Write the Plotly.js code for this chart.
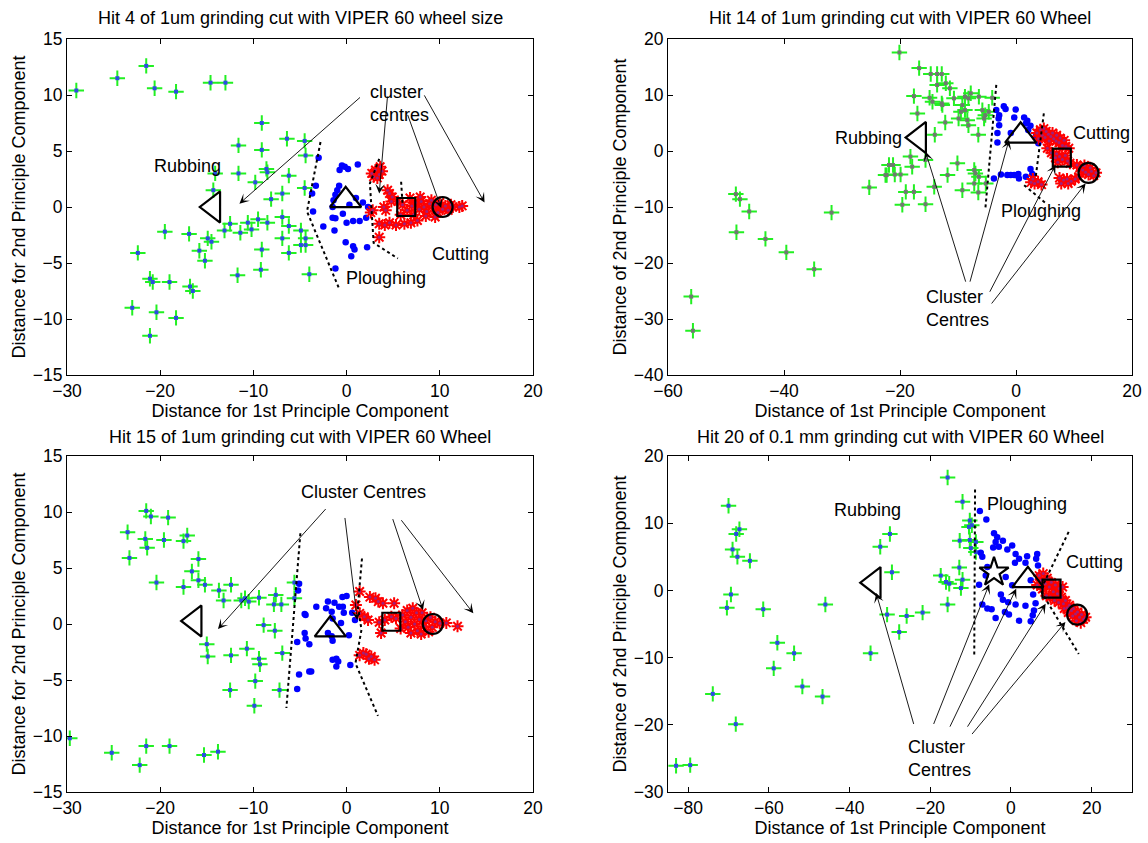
<!DOCTYPE html>
<html><head><meta charset="utf-8">
<script src="https://cdn.plot.ly/plotly-3.0.1.min.js"></script>
<style>body{margin:0;background:#fff}#c{width:1148px;height:843px}</style>
</head><body><div id="c"></div>
<script>
// ---------- DATA ----------
// Plot 1 (Hit 4)
const g1x=[-29.0,-24.6,-21.5,-20.6,-18.3,-14.6,-13.0,-9.1,-6.4,-4.5,-11.6,-9.1,-4.4,-8.6,-8.5,-11.6,-14.1,-9.8,-6.2,-4.5,-14.3,-6.9,-8.1,-12.5,-13.1,-10.6,-9.5,-10.2,-8.5,-11.4,-6.9,-6.2,-4.9,-4.4,-4.9,-4.4,-6.9,-9.1,-6.2,-19.5,-16.9,-14.9,-14.5,-15.8,-15.2,-22.4,-21.1,-20.8,-19.0,-16.8,-16.5,-11.7,-9.2,-23.0,-20.4,-18.3,-21.1,-4.0];
const g1y=[10.4,11.5,12.6,10.6,10.3,11.1,11.1,7.5,6.1,5.9,5.5,5.1,4.6,3.4,3.1,3.0,3.0,2.2,2.8,1.7,1.5,1.2,0.7,-1.5,-2.1,-1.4,-1.1,-2.0,-1.4,-2.3,-0.9,-1.7,-2.1,-2.8,-3.4,-3.4,-2.8,-3.8,-4.1,-2.2,-2.4,-2.8,-3.1,-3.9,-4.8,-4.1,-6.4,-6.7,-6.7,-7.1,-7.5,-6.1,-5.6,-9.0,-9.4,-9.9,-11.5,-6.0];
const b1x=[-0.75,-0.2,0.15,-0.5,1.2,-3.0,-3.3,-3.7,-3.6,-0.8,-1.2,-1.4,-1.5,1.0,1.75,2.3,0.3,-1.5,-1.2,0.0,0.7,1.4,2.1,-2.5,-1.3,-0.1,0.7,0.85,0.5,2.2,-1.2,-1.0,-0.4];
const b1y=[3.3,3.6,3.4,3.7,3.8,4.4,1.9,1.2,-0.4,1.9,1.1,0.6,0.0,0.8,0.4,0.0,0.2,-0.95,-1.0,-1.4,-1.25,-1.25,-0.95,-1.75,-2.1,-3.15,-3.5,-3.8,-4.4,-3.6,-5.5,1.5,-0.6];
const r1x=[2.7,3.1,3.5,3.8,3.3,2.9,3.6,4.6,4.4,4.9,2.8,2.6,4.2,4.0,3.5,4.1,4.6,5.3,6.2,6.9,7.6,3.5,5.5,6.0,6.5,7.0,7.4,7.8,8.0,8.3,8.6,8.9,9.1,9.3,9.6,9.8,10.0,10.3,10.6,10.9,11.2,11.4,12.1,12.4,8.5,7.2,9.5,6.8,7.9,5.8,4.8];
const r1y=[3.0,3.3,2.9,3.2,2.6,2.7,3.6,1.2,1.5,0.9,-0.3,-0.5,-0.3,0.0,-1.5,-1.6,-1.4,-1.6,-1.5,-1.4,-1.2,-2.7,0.5,0.2,-0.3,0.1,0.4,-0.2,0.5,0.0,-0.4,0.3,0.6,-0.1,0.2,-0.5,0.4,-0.2,0.1,-0.3,0.2,0.0,0.0,0.1,-0.8,-0.7,-0.9,0.8,0.9,-0.7,0.5];
const c1x=[-14.3,-0.1,6.4,10.3];
const c1y=[0.0,0.6,0.0,0.0];
const d1ax=[-2.8,-4.25,-0.75], d1ay=[5.8,-0.4,-7.4];
const d1bx=[3.5,2.5,2.9,5.5], d1by=[4.3,2.1,-3.2,-4.6];
const d1cx=[5.85,6.0], d1cy=[2.25,0.3];
const a1hx=[-11.5,3.5,10.15,14.8], a1hy=[0.3,1.2,-0.1,0.4];
const a1tx=[1.6,4.4,6.5,8.25], a1ty=[9.9,10.0,8.35,10.1];

// Plot 2 (Hit 14)
const g2x=[-56.0,-55.7,-48.3,-47.6,-46.0,-48.2,-43.2,-39.6,-34.8,-31.8,-25.3,-22.3,-21.9,-20.1,-16.7,-14.7,-13.6,-12.8,-13.6,-12.1,-11.4,-17.6,-14.9,-14.4,-12.8,-12.7,-10.7,-8.8,-7.8,-8.2,-6.4,-4.1,-9.25,-8.8,-9.5,-5.8,-5.3,-4.7,-17.0,-9.9,-8.4,-8.2,-5.5,-12.2,-14.0,-6.5,-18.2,-21.2,-17.9,-22.5,-20.9,-19.9,-15.6,-10.1,-11.8,-7.2,-7.0,-6.4,-5.2,-7.2,-19.0,-17.6,-14.1,-9.25,-6.5,-19.6,-15.6];
const g2y=[-26.0,-32.1,-7.7,-8.6,-10.8,-14.5,-15.7,-18.1,-21.1,-11.0,-6.5,-4.3,-2.5,17.6,14.8,13.75,13.75,13.75,11.8,12.1,11.2,9.8,9.5,8.8,8.5,8.2,9.4,9.7,10.3,9.4,9.7,9.5,8.2,7.3,7.0,7.3,6.4,7.0,6.7,5.8,5.5,4.6,5.8,5.1,2.9,2.9,-1.0,-2.5,-2.8,-4.3,-4.2,-4.2,-1.6,-2.2,-4.3,-3.4,-4.0,-4.6,-5.8,-5.8,-7.3,-7.3,-6.4,-7.0,-7.4,-9.6,-9.5];
const b2x=[-3.4,-2.9,-3.0,-2.1,-1.8,-0.05,-0.3,1.4,1.95,1.7,2.5,2.1,-2.9,-3.2,-3.2,-0.9,3.4,4.0,4.5,3.85,-3.8,-2.6,-1.5,-0.9,-0.3,0.4,0.5,1.7,2.5,2.8];
const b2y=[7.3,6.4,5.8,8.0,7.5,7.4,6.0,6.0,5.4,4.9,4.5,3.75,4.6,3.2,1.5,3.2,2.6,2.0,2.6,1.4,-4.9,-4.2,-4.3,-4.3,-4.3,-4.1,-4.9,-4.6,-3.2,-4.1];
const r2x=[3.6,4.2,4.8,5.2,5.6,6.0,6.5,6.9,7.4,8.0,8.6,9.1,5.0,5.7,4.5,6.3,7.0,7.6,8.3,3.9,5.4,6.1,7.0,7.5,8.0,8.5,8.9,9.3,7.2,6.8,10.5,11.0,11.5,12.0,12.5,13.0,13.4,13.8,11.8,12.8,7.5,8.2,8.8,9.5,10.2,10.8,7.8,9.0,2.6,3.2,3.8,4.4,2.9];
const r2y=[3.2,3.8,4.0,3.5,3.0,2.6,2.2,1.8,1.5,1.0,0.8,0.5,2.4,1.8,2.8,3.2,2.8,2.3,1.9,2.2,0.5,-0.3,-0.5,-1.0,-1.5,-0.8,-1.8,-2.2,-2.0,-1.2,-2.5,-3.0,-3.4,-3.8,-4.2,-3.6,-4.4,-3.9,-2.6,-3.0,-4.8,-5.2,-5.0,-5.4,-5.0,-4.6,-5.8,-5.8,-5.6,-5.8,-5.5,-6.0,-5.0];
const c2x=[-16.7,0.8,7.9,12.5];
const c2y=[2.4,2.7,-1.2,-3.9];
const d2ax=[-3.4,-5.3], d2ay=[11.8,-10.5];
const d2bx=[4.8,3.4], d2by=[6.7,-4.6];
const d2cx=[1.4,5.1], d2cy=[-6.1,-9.3];
const a2hx=[-15.6,-1.2,6.8,12.0], a2hy=[-0.1,2.0,-2.5,-5.8];
const a2tx=[-8.6,-8.0,-4.65,-4.4], a2ty=[-23.6,-23.6,-25.4,-27.5];

// Plot 3 (Hit 15)
const g3x=[-21.5,-21.0,-19.15,-23.5,-21.6,-21.4,-19.6,-17.5,-17.1,-23.3,-15.9,-16.6,-15.9,-15.2,-20.4,-17.5,-13.7,-13.2,-12.4,-11.3,-10.9,-10.5,-9.4,-7.6,-7.8,-7.0,-5.6,-5.6,-8.9,-7.7,-15.0,-14.9,-12.4,-10.7,-9.4,-9.3,-6.9,-12.5,-9.8,-7.2,-9.9,-29.7,-25.2,-21.5,-19.0,-22.2,-15.3,-13.8];
const g3y=[10.1,9.6,9.5,8.2,7.6,6.8,7.5,7.4,7.9,5.9,5.8,4.7,3.9,3.5,3.7,3.3,3.0,2.1,3.5,2.1,2.3,2.0,2.35,2.6,1.75,1.75,3.7,2.3,-0.1,-0.6,-1.8,-2.9,-2.8,-2.2,-3.1,-3.6,-2.6,-5.9,-5.1,-5.9,-7.3,-10.2,-11.5,-10.9,-10.9,-12.6,-11.7,-11.4];
const b3x=[-5.1,-5.2,-4.4,-5.3,-4.4,-4.0,-5.1,-4.0,-5.3,-4.5,-3.25,-2.2,-2.0,-1.6,-1.3,-1.5,-0.8,-0.4,-0.3,-0.45,0.0,-0.6,0.6,0.9,0.25,-4.5,-2.0,-1.6,-1.5,-1.5,-1.1,-0.9,-1.1,0.4,-3.8];
const b3y=[3.6,3.0,0.8,-1.6,-1.3,-1.8,-4.5,-4.25,-5.8,0.9,1.55,1.4,2.0,1.1,1.9,0.5,1.55,1.55,1.0,2.4,2.5,0.1,1.0,0.35,-1.0,-0.8,-0.8,-1.1,-1.5,-3.2,-3.1,-3.35,-3.8,-3.65,-4.25];
const r3x=[1.4,1.0,1.4,1.9,2.3,2.5,3.4,3.9,3.1,5.1,3.5,4.1,4.8,5.3,3.7,1.4,2.1,2.65,3.0,2.4,1.8,6.0,6.3,6.6,6.9,7.1,7.3,7.6,7.8,8.1,8.3,8.5,8.8,9.0,9.2,6.5,7.5,8.0,9.5,10.0,10.7,11.9,5.8,6.9];
const r3y=[2.9,1.7,0.95,0.65,0.35,2.4,2.0,1.85,2.3,1.85,0.15,0.35,0.65,0.5,-0.8,-2.8,-2.7,-2.9,-3.2,-3.1,-2.6,0.8,0.2,-0.3,0.6,1.4,0.0,-0.6,0.4,1.0,-0.2,0.3,-0.7,0.6,-0.3,1.2,1.0,-0.9,0.2,0.06,0.1,-0.2,-0.4,-0.8];
const c3x=[-16.3,-1.75,4.8,9.25];
const c3y=[0.27,-0.5,0.2,0.0];
const d3ax=[-4.96,-6.46], d3ay=[8.1,-7.5];
const d3bx=[1.65,1.2,1.6,0.95,3.36], d3by=[5.85,1.55,-0.5,-3.5,-8.2];
const a3hx=[-13.8,1.15,8.2,13.6], a3hy=[-0.45,0.35,1.25,0.95];
const a3tx=[-2.1,-0.2,4.9,5.75], a3ty=[10.4,9.6,9.5,9.4];

// Plot 4 (Hit 20)
const g4x=[-70.0,-67.3,-68.1,-69.0,-67.8,-64.7,-69.4,-70.4,-61.4,-46.0,-57.9,-53.75,-58.8,-51.7,-46.7,-73.9,-68.2,-83.0,-79.5,-32.4,-30.0,-34.8,-30.7,-29.5,-25.85,-21.9,-27.7,-15.7,-12.0,-10.2,-9.7,-10.4,-12.7,-10.2,-8.7,-9.95,-8.7,-12.8,-17.4,-16.1,-15.3,-12.0,-12.4,-15.7];
const g4y=[12.6,9.1,8.4,6.1,5.0,4.4,-0.6,-2.6,-2.8,-2.1,-7.8,-9.35,-11.6,-14.3,-15.8,-15.4,-19.9,-26.1,-26.0,6.5,8.4,-9.35,-3.6,2.7,-3.8,-3.3,-6.2,16.8,13.2,10.4,9.7,9.45,7.4,7.5,7.2,6.3,5.7,3.4,2.2,1.25,1.0,1.6,0.35,-2.1];
const b4x=[-7.7,-6.1,-4.2,-3.4,-3.8,-2.0,-4.4,-3.0,-0.9,0.3,-7.5,-7.1,1.15,2.0,4.0,6.5,6.25,1.0,3.6,6.7,-5.85,-6.25,-7.9,-1.3,0.3,4.9,6.9,-2.5,-2.0,-0.7,1.15,3.6,5.5,6.1,-7.1,-5.85,-4.8,-3.8,-1.5,-0.5,2.0,4.9,5.4,5.7];
const b4y=[11.8,10.55,8.5,7.9,7.2,7.4,6.4,6.5,6.1,6.7,5.6,5.0,5.4,4.7,5.1,5.4,4.7,4.1,4.1,3.7,3.5,2.2,0.85,2.0,0.75,1.5,2.2,-0.6,-1.4,-1.75,-2.1,-2.3,-0.6,-1.9,-2.1,-2.7,-2.8,-4.1,-3.2,-3.6,-4.5,-4.6,-3.7,-3.0];
const r4x=[7.0,7.5,8.0,8.5,9.0,9.5,10.0,10.5,11.0,11.5,12.0,7.8,8.8,9.8,10.8,12.5,11.8,13.0,13.5,14.0,14.5,15.0,15.5,16.0,16.5,17.0,17.5,18.0,18.5,16.2,17.3,15.3,14.2,13.2,12.8,6.5];
const r4y=[2.2,1.5,2.5,1.0,1.8,0.5,1.2,-0.2,0.8,-0.5,0.3,0.2,-0.8,-1.0,-1.5,-1.0,-1.8,-2.0,-1.5,-2.6,-2.2,-3.0,-2.7,-3.5,-3.2,-4.0,-3.6,-4.3,-4.0,-4.5,-4.8,-3.8,-3.3,-2.7,0.5,0.8];
const c4x=[-34.0,-4.2,4.2,10.05,16.4];
const c4y=[1.15,2.7,1.5,0.25,-3.6];
const d4ax=[-8.9,-9.1], d4ay=[15.0,-10.0];
const d4bx=[14.3,7.3,16.8], d4by=[8.7,0.0,-9.45];
const a4hx=[-33.4,-5.4,1.3,8.6,13.5], a4hy=[-0.4,0.9,0.25,-2.0,-4.7];
const a4tx=[-24.0,-19.3,-15.3,-11.0,-9.95], a4ty=[-20.1,-20.1,-20.5,-20.5,-21.6];

// Ticks and texts
const xt13=[-30,-20,-10,0,10,20], yt13=[-15,-10,-5,0,5,10,15];
const xt2=[-60,-40,-20,0,20], yt2=[-40,-30,-20,-10,0,10,20];
const xt4=[-80,-60,-40,-20,0,20], yt4=[-30,-20,-10,0,10,20];
const titles=["Hit 4 of 1um grinding cut with VIPER 60 wheel size","Hit 14 of 1um grinding cut with VIPER 60 Wheel","Hit 15 of 1um grinding cut with VIPER 60 Wheel","Hit 20 of 0.1 mm grinding cut with VIPER 60 Wheel"];
const xTitles=["Distance for 1st Principle Component","Distance of 1st Principle Component","Distance for 1st Principle Component","Distance of 1st Principle Component"];
const yTitles=["Distance for 2nd Principle Component","Distance of 2nd Principle Component","Distance for 2nd Principle Component","Distance of 2nd Principle Component"];

// ---------- BUILD ----------
const FONT='Liberation Sans, Arial, sans-serif';
const FS=18, TFS=17.5;
const traces=[];
function addSet(xa,ya,gx,gy,bx,by,rx,ry,cx,cy,csyms,lines,gcentre){
  traces.push({type:'scatter',mode:'markers',x:gx,y:gy,xaxis:xa,yaxis:ya,hoverinfo:'none',
    marker:{symbol:'cross-thin-open',size:11,opacity:1,color:'#22f022',line:{color:'#22f022',width:2}}});
  traces.push({type:'scatter',mode:'markers',x:gx,y:gy,xaxis:xa,yaxis:ya,hoverinfo:'none',
    marker:{symbol:'square',size:4,opacity:1,color:gcentre,line:{width:0}}});
  traces.push({type:'scatter',mode:'markers',x:bx,y:by,xaxis:xa,yaxis:ya,hoverinfo:'none',
    marker:{symbol:'circle',size:6.5,opacity:1,color:'#0000ff',line:{width:0}}});
  traces.push({type:'scatter',mode:'markers',x:rx,y:ry,xaxis:xa,yaxis:ya,hoverinfo:'none',
    marker:{symbol:'asterisk-open',size:10,opacity:1,color:'#ff0000',line:{color:'#ff0000',width:2}}});
  traces.push({type:'scatter',mode:'markers',x:rx,y:ry,xaxis:xa,yaxis:ya,hoverinfo:'none',
    marker:{symbol:'circle',size:3,opacity:1,color:'#a0207a',line:{width:0}}});
  lines.forEach(l=>traces.push({type:'scatter',mode:'lines',x:l[0],y:l[1],xaxis:xa,yaxis:ya,hoverinfo:'none',
    line:{color:'black',width:2,dash:'dot'}}));
  const sizes=csyms.map(s=>s.startsWith('triangle')?27:(s.startsWith('square')?18:(s.startsWith('star')?22:20)));
  traces.push({type:'scatter',mode:'markers',x:cx,y:cy,xaxis:xa,yaxis:ya,hoverinfo:'none',opacity:1,
    marker:{symbol:csyms,size:sizes,opacity:1,color:'#000000',line:{color:'#000000',width:2.2}}});
}
const S4=['triangle-left-open','triangle-up-open','square-open','circle-open'];
addSet('x','y',g1x,g1y,b1x,b1y,r1x,r1y,c1x,c1y,S4,[[d1ax,d1ay],[d1bx,d1by],[d1cx,d1cy]],'#2a4ee0');
addSet('x2','y2',g2x,g2y,b2x,b2y,r2x,r2y,c2x,c2y,S4,[[d2ax,d2ay],[d2bx,d2by],[d2cx,d2cy]],'#6f7a6f');
addSet('x3','y3',g3x,g3y,b3x,b3y,r3x,r3y,c3x,c3y,S4,[[d3ax,d3ay],[d3bx,d3by]],'#2a4ee0');
addSet('x4','y4',g4x,g4y,b4x,b4y,r4x,r4y,c4x,c4y,['triangle-left-open','star-open','triangle-up-open','square-open','circle-open'],[[d4ax,d4ay],[d4bx,d4by]],'#2a4ee0');

const annotations=[];
function arrows(xr,yr,hx,hy,tx,ty){
  for(let i=0;i<hx.length;i++){
    annotations.push({xref:xr,yref:yr,axref:xr,ayref:yr,x:hx[i],y:hy[i],ax:tx[i],ay:ty[i],
      text:'',showarrow:true,arrowhead:3,arrowsize:1.8,arrowwidth:0.9,arrowcolor:'black',standoff:0,startstandoff:0});
  }
}
arrows('x','y',a1hx,a1hy,a1tx,a1ty);
arrows('x2','y2',a2hx,a2hy,a2tx,a2ty);
arrows('x3','y3',a3hx,a3hy,a3tx,a3ty);
arrows('x4','y4',a4hx,a4hy,a4tx,a4ty);
function label(xr,yr,x,y,t,xanchor){
  annotations.push({xref:xr,yref:yr,x:x,y:y,text:t,showarrow:false,xanchor:xanchor||'center',yanchor:'middle',align:'left',
    font:{family:FONT,size:FS,color:'black'}});
}
label('x','y',-17.1,3.7,'Rubbing');
label('x','y',2.25,9.2,'cluster<br>centres','left');
label('x','y',4.2,-6.3,'Ploughing');
label('x','y',12.2,-4.2,'Cutting');
label('x2','y2',-25.5,2.3,'Rubbing');
label('x2','y2',14.8,3.2,'Cutting');
label('x2','y2',4.25,-10.8,'Ploughing');
label('x2','y2',-15.9,-28.2,'Cluster<br>Centres','left');
label('x3','y3',1.8,11.8,'Cluster Centres');
label('x4','y4',-35.6,11.9,'Rubbing');
label('x4','y4',4.0,12.9,'Ploughing');
label('x4','y4',20.7,4.3,'Cutting');
label('x4','y4',-25.9,-25.0,'Cluster<br>Centres','left');
// subplot titles
const tpos=[[300/1148,1-18/843],[900/1148,1-18/843],[300/1148,1-437/843],[900/1148,1-437/843]];
titles.forEach((t,i)=>annotations.push({xref:'paper',yref:'paper',x:tpos[i][0],y:tpos[i][1],text:t,showarrow:false,
  xanchor:'center',yanchor:'middle',font:{family:FONT,size:FS,color:'black'}}));

function axis(range,tv,domain,anchor,title){
  return {range:range,tickvals:tv,domain:domain,anchor:anchor,showline:true,mirror:'ticks',linecolor:'black',linewidth:1,
    ticks:'inside',ticklen:5,tickcolor:'black',showgrid:false,zeroline:false,fixedrange:true,
    tickfont:{family:FONT,size:TFS,color:'black'},
    title:{text:title,font:{family:FONT,size:FS,color:'black'},standoff:2}};
}
const DL=[67/1148,533/1148], DR=[668/1148,1132/1148], DT=[1-375/843,1-39/843], DB=[1-792/843,1-456/843];
const layout={width:1148,height:843,margin:{l:0,r:0,t:0,b:0},paper_bgcolor:'white',plot_bgcolor:'white',
  showlegend:false,font:{family:FONT,size:FS,color:'black'},
  xaxis:axis([-30,20],xt13,DL,'y',xTitles[0]), yaxis:axis([-15,15],yt13,DT,'x',yTitles[0]),
  xaxis2:axis([-60,20],xt2,DR,'y2',xTitles[1]), yaxis2:axis([-40,20],yt2,DT,'x2',yTitles[1]),
  xaxis3:axis([-30,20],xt13,DL,'y3',xTitles[2]), yaxis3:axis([-15,15],yt13,DB,'x3',yTitles[2]),
  xaxis4:axis([-85,30],xt4,DR,'y4',xTitles[3]), yaxis4:axis([-30,20],yt4,DB,'x4',yTitles[3]),
  annotations:annotations};
Plotly.newPlot('c',traces,layout,{staticPlot:true,displayModeBar:false});
</script></body></html>
